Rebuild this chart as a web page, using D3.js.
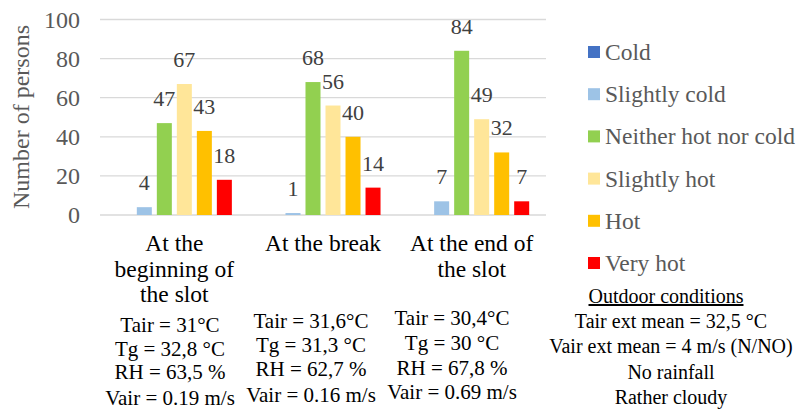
<!DOCTYPE html>
<html>
<head>
<meta charset="utf-8">
<script src="https://cdn.jsdelivr.net/npm/d3@7"></script>
<style>
  body { margin: 0; background: #fff; }
  svg text { font-family: "Liberation Serif", "Times New Roman", serif; }
</style>
</head>
<body>
<svg id="chart" width="800" height="410"></svg>
<script>
// chart data
let categories = ['At the beginning of the slot', 'At the break', 'At the end of the slot']
let categoryLines = [['At the', 'beginning of', 'the slot'], ['At the break'], ['At the end of', 'the slot']]
let seriesNames = ['Cold', 'Slightly cold', 'Neither hot nor cold', 'Slightly hot', 'Hot', 'Very hot']
let seriesColors = ['#4472C4', '#9DC3E6', '#92D050', '#FFE699', '#FFC000', '#FF0000']
let cold = [0, 0, 0]
let slightlyCold = [4, 1, 7]
let neither = [47, 68, 84]
let slightlyHot = [67, 56, 49]
let hot = [43, 40, 32]
let veryHot = [18, 14, 7]
let yTicks = [0, 20, 40, 60, 80, 100]
let conditions = [
  ['Tair = 31°C', 'Tg = 32,8 °C', 'RH = 63,5 %', 'Vair = 0.19 m/s'],
  ['Tair = 31,6°C', 'Tg = 31,3 °C', 'RH = 62,7 %', 'Vair = 0.16 m/s'],
  ['Tair = 30,4°C', 'Tg = 30 °C', 'RH = 67,8 %', 'Vair = 0.69 m/s']
]
let outdoorTitle = 'Outdoor conditions'
let outdoorLines = ['Tair ext mean = 32,5 °C', 'Vair ext mean = 4 m/s (N/NO)', 'No rainfall', 'Rather cloudy']

let seriesValues = [cold, slightlyCold, neither, slightlyHot, hot, veryHot]
let serif = '"Liberation Serif", "Times New Roman", serif'

let svg = d3.select('#chart')

let x0 = d3.scaleBand().domain(categories).range([100, 546])
let x1 = d3.scaleBand().domain(seriesNames).range([0, x0.bandwidth()])
  .paddingInner(0.25).paddingOuter(0.84)
let y = d3.scaleLinear().domain([0, 100]).range([215, 19.5])
let color = d3.scaleOrdinal().domain(seriesNames).range(seriesColors)

// gridlines
svg.append('g')
  .selectAll('line')
  .data(yTicks)
  .join('line')
  .attr('x1', 100)
  .attr('x2', 546)
  .attr('y1', d => y(d))
  .attr('y2', d => y(d))
  .attr('stroke', '#D9D9D9')
  .attr('stroke-width', 1.3)

// y tick labels
let yAxis = svg.append('g')
  .attr('transform', 'translate(80,0)')
  .call(d3.axisLeft(y).tickValues(yTicks).tickSize(0).tickPadding(0))
yAxis.attr('font-family', serif)
yAxis.select('.domain').remove()
yAxis.selectAll('text')
  .attr('font-size', 24)
  .attr('fill', '#595959')
  .attr('dy', '0.33em')

svg.append('text')
  .attr('transform', 'translate(21,117) rotate(-90)')
  .attr('text-anchor', 'middle')
  .attr('dominant-baseline', 'central')
  .attr('font-family', serif)
  .attr('font-size', 24)
  .attr('fill', '#595959')
  .text('Number of persons')

// bars
let rows = []
seriesNames.forEach((s, si) => {
  categories.forEach((c, ci) => {
    rows.push({ series: s, category: c, value: seriesValues[si][ci] })
  })
})

svg.append('g')
  .selectAll('rect')
  .data(rows.filter(d => d.value > 0))
  .join('rect')
  .attr('x', d => x0(d.category) + x1(d.series))
  .attr('y', d => y(d.value))
  .attr('width', x1.bandwidth())
  .attr('height', d => y(0) - y(d.value))
  .attr('fill', d => color(d.series))

svg.append('g')
  .selectAll('text')
  .data(rows.filter(d => d.value > 0))
  .join('text')
  .attr('x', d => x0(d.category) + x1(d.series) + x1.bandwidth() / 2)
  .attr('y', d => y(d.value) - 17)
  .attr('text-anchor', 'middle')
  .attr('font-family', serif)
  .attr('font-size', 22)
  .attr('fill', '#404040')
  .text(d => d.value)

// category labels
categories.forEach((c, ci) => {
  let cx = x0(c) + x0.bandwidth() / 2
  svg.append('text')
    .attr('text-anchor', 'middle')
    .attr('font-family', serif)
    .attr('font-size', 23.5)
    .attr('fill', '#000')
    .selectAll('tspan')
    .data(categoryLines[ci])
    .join('tspan')
    .attr('x', cx)
    .attr('y', (d, i) => 251 + i * 25.5)
    .text(d => d)
})

// conditions under each category
let condX = [170, 311, 452]
let condY = [[332, 356, 379, 405], [328, 352, 376, 402], [325, 350, 375, 399]]
conditions.forEach((lines, ci) => {
  svg.append('g')
    .selectAll('text')
    .data(lines)
    .join('text')
    .attr('x', condX[ci])
    .attr('y', (d, i) => condY[ci][i])
    .attr('text-anchor', 'middle')
    .attr('font-family', serif)
    .attr('font-size', 21)
    .attr('fill', '#000')
    .text(d => d)
})

// legend
let legend = svg.append('g')
  .selectAll('g')
  .data(seriesNames)
  .join('g')
  .attr('transform', (d, i) => `translate(588,${52 + i * 42.2})`)
legend.append('rect')
  .attr('x', 0)
  .attr('y', -6)
  .attr('width', 12)
  .attr('height', 12)
  .attr('fill', d => color(d))
legend.append('text')
  .attr('x', 17)
  .attr('y', 0)
  .attr('dominant-baseline', 'central')
  .attr('font-family', serif)
  .attr('font-size', 23.5)
  .attr('fill', '#595959')
  .text(d => d)

// outdoor conditions
svg.append('text')
  .attr('x', 666)
  .attr('y', 303)
  .attr('text-anchor', 'middle')
  .attr('font-family', serif)
  .attr('font-size', 20)
  .attr('fill', '#000')
  .style('text-decoration', 'underline')
  .text(outdoorTitle)

svg.append('g')
  .selectAll('text')
  .data(outdoorLines)
  .join('text')
  .attr('x', 671)
  .attr('y', (d, i) => 328 + i * 25.3)
  .attr('text-anchor', 'middle')
  .attr('font-family', serif)
  .attr('font-size', 20)
  .attr('fill', '#000')
  .text(d => d)
</script>
</body>
</html>
